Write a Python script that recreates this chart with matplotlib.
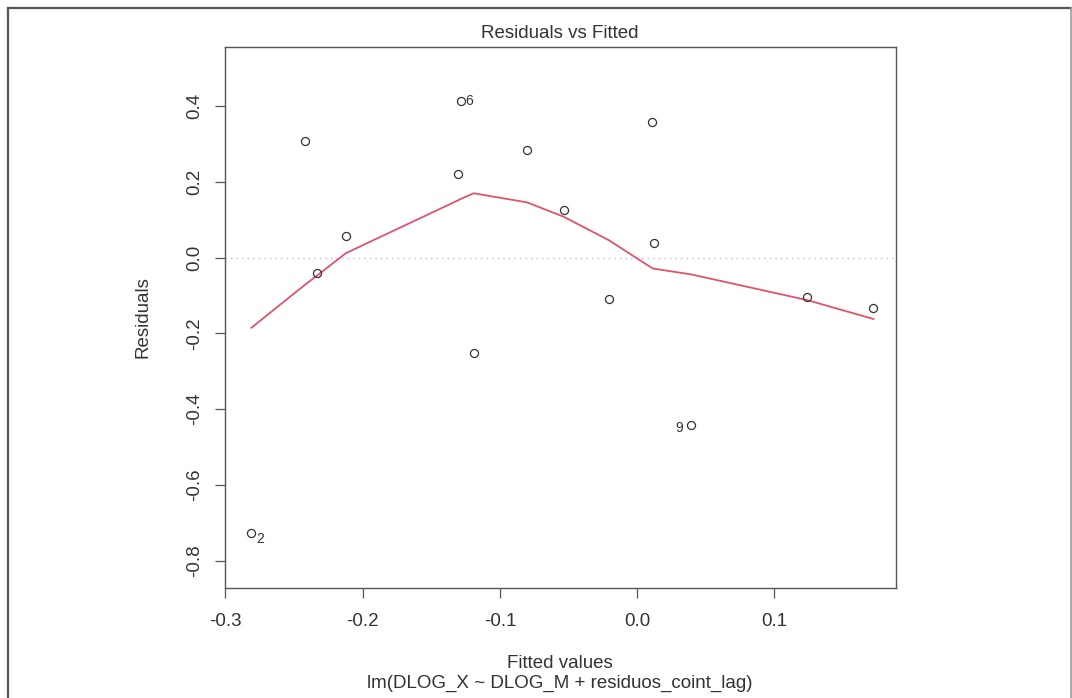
import matplotlib
matplotlib.use("Agg")
import matplotlib.pyplot as plt
from matplotlib.lines import Line2D

plt.rcParams["font.family"] = ["Liberation Sans", "DejaVu Sans"]

# fitted values and residuals of the model
fitted = [-0.2810, -0.2421, -0.2331, -0.2121, -0.1307, -0.1285, -0.1191, -0.0803,
          -0.0535, -0.0206, 0.0106, 0.0119, 0.0390, 0.1238, 0.1721]
resid = [-0.727, 0.309, -0.041, 0.057, 0.222, 0.414, -0.251, 0.285,
         0.126, -0.110, 0.358, 0.038, -0.442, -0.104, -0.133]

# smoothed residual curve, evaluated at the sorted fitted values
smooth = [-0.185, -0.072, -0.047, 0.012, 0.151, 0.155, 0.170, 0.146,
          0.108, 0.046, -0.027, -0.029, -0.044, -0.112, -0.162]

# observations flagged by number: (index, label, offset in points)
flagged = [(0, "2", (6, -4)), (5, "6", (6, 0)), (12, "9", (-8, -2))]

x_ticks = [-0.3, -0.2, -0.1, 0.0, 0.1]
y_ticks = [-0.8, -0.6, -0.4, -0.2, 0.0, 0.2, 0.4]

TXT = "#333333"
W, H = 1072, 698

fig = plt.figure(figsize=(W / 100, H / 100), dpi=100)
fig.patch.set_facecolor("white")

# axes box in pixel coordinates
left, right, top, bottom = 224.5, 895.7, 46.7, 588.3
ax = fig.add_axes([left / W, 1 - bottom / H, (right - left) / W, (bottom - top) / H])

ax.axhline(0, color="#bebebe", lw=1.0, ls=(0, (1, 3)), zorder=1)
ax.plot(fitted, smooth, color="#DF536B", lw=1.3, zorder=2)
ax.plot(fitted, resid, ls="none", marker="o", ms=5.8, mfc="none",
        mec="#333333", mew=0.9, zorder=3)

for i, lab, off in flagged:
    ax.annotate(lab, (fitted[i], resid[i]), xytext=off, textcoords="offset points",
                ha="center", va="center", fontsize=10, color=TXT)

ax.set_xlim(-0.3006, 0.1883)
ax.set_ylim(-0.873, 0.557)
ax.set_xticks(x_ticks)
ax.set_xticklabels([f"{v:.1f}" for v in x_ticks])
ax.set_yticks(y_ticks)
ax.set_yticklabels([f"{v:.1f}" for v in y_ticks], rotation=90, va="center")

for s in ax.spines.values():
    s.set_color("#555555")
    s.set_linewidth(1.0)
ax.tick_params(axis="both", length=7.5, width=0.9, color="#555555",
               labelsize=13.5, labelcolor=TXT)
ax.tick_params(axis="x", pad=10)
ax.tick_params(axis="y", pad=8)

# titles and axis labels
fig.text(560 / W, 1 - 33 / H, "Residuals vs Fitted", ha="center", va="center",
         fontsize=13.5, color=TXT)
fig.text(560 / W, 1 - 663 / H, "Fitted values", ha="center", va="center",
         fontsize=13.5, color=TXT)
fig.text(560 / W, 1 - 683 / H, "lm(DLOG_X ~ DLOG_M + residuos_coint_lag)",
         ha="center", va="center", fontsize=13.5, color=TXT)
fig.text(143 / W, 1 - 317 / H, "Residuals", ha="center", va="center",
         rotation=90, fontsize=13.5, color=TXT)

# page frame around the figure
fig.add_artist(Line2D([7.5 / W, 7.5 / W], [0, 1 - 7.5 / H], color="#555555",
                      lw=1.6, transform=fig.transFigure))
fig.add_artist(Line2D([7.5 / W, 1070.5 / W], [1 - 7.5 / H, 1 - 7.5 / H],
                      color="#555555", lw=1.6, transform=fig.transFigure))
fig.add_artist(Line2D([1070.5 / W, 1070.5 / W], [0, 1 - 7.5 / H], color="#999999",
                      lw=1.2, transform=fig.transFigure))

fig.savefig("out.png", dpi=100, facecolor="white")
